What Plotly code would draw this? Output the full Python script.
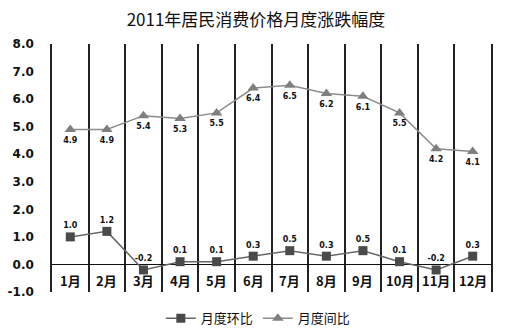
import plotly.graph_objects as go

months = ["1月", "2月", "3月", "4月", "5月", "6月", "7月", "8月", "9月", "10月", "11月", "12月"]
mom = [1.0, 1.2, -0.2, 0.1, 0.1, 0.3, 0.5, 0.3, 0.5, 0.1, -0.2, 0.3]   # 月度环比
yoy = [4.9, 4.9, 5.4, 5.3, 5.5, 6.4, 6.5, 6.2, 6.1, 5.5, 4.2, 4.1]     # 月度同比
y_ticks = [-1.0, 0.0, 1.0, 2.0, 3.0, 4.0, 5.0, 6.0, 7.0, 8.0]

label_font = dict(family="DejaVu Sans", size=8, color="#111111")

fig = go.Figure()
fig.add_trace(go.Scatter(
    x=months, y=mom, name="月度环比", mode="lines+markers+text",
    line=dict(color="#666666", width=1.5),
    marker=dict(symbol="square", size=9, color="#4a4a4a"),
    text=[f"<b>{v:.1f}</b>" for v in mom], textposition="top center",
    textfont=label_font, cliponaxis=False,
))
fig.add_trace(go.Scatter(
    x=months, y=yoy, name="月度间比", mode="lines+markers+text",
    line=dict(color="#8c8c8c", width=1.5),
    marker=dict(symbol="triangle-up", size=10, color="#7f7f7f"),
    text=[f"<b>{v:.1f}</b>" for v in yoy], textposition="bottom center",
    textfont=label_font, cliponaxis=False,
))

# month names sit inside the plot, between 0 and -1
for m in months:
    fig.add_annotation(x=m, y=-0.6, xref="x", yref="y", text=f"<b>{m}</b>",
                       showarrow=False,
                       font=dict(family="Noto Sans CJK SC", size=13, color="#111111"))

fig.update_layout(
    width=512, height=335,
    margin=dict(l=52, r=21, t=44, b=43, autoexpand=False),
    paper_bgcolor="white", plot_bgcolor="white",
    title=dict(text="2011年居民消费价格月度涨跌幅度", x=0.5, xanchor="center",
               yref="container", y=0.94, yanchor="middle",
               font=dict(family="Noto Sans CJK SC", size=17, color="#111111")),
    showlegend=True,
    legend=dict(orientation="h", x=0.47, xanchor="center", yref="container",
                y=0.05, yanchor="middle", tracegroupgap=0,
                font=dict(family="Noto Sans CJK SC", size=13, color="#111111"),
                itemwidth=30),
    xaxis=dict(type="category", range=[-0.5, 11.5], tickson="boundaries", showgrid=True,
               gridcolor="#222222", gridwidth=1.5, showticklabels=False,
               ticks="", zeroline=False, showline=False),
    yaxis=dict(range=[-1, 8], tickvals=y_ticks, ticktext=[f"<b>{v:.1f}</b>" for v in y_ticks],
               showgrid=False, zeroline=True, zerolinecolor="#111111", zerolinewidth=1,
               showline=True, mirror=True, linecolor="#222222", linewidth=1.5,
               ticks="", ticklabelstandoff=14,
               tickfont=dict(family="DejaVu Sans", size=12, color="#111111")),
)

fig.write_html("out.html")
